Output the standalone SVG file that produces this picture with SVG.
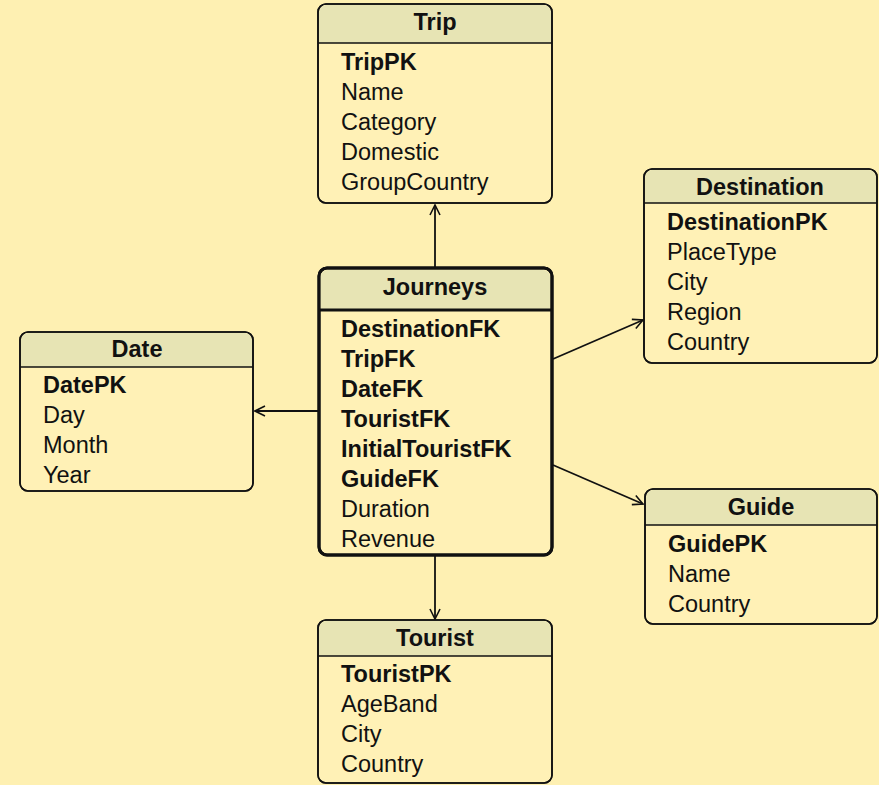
<svg xmlns="http://www.w3.org/2000/svg" width="879" height="785" viewBox="0 0 879 785">
<defs>
<style>
.bg{fill:#FEF0B2}
.box{fill:#FFF1B6;stroke:#111;stroke-width:1.6}
.main{stroke-width:3}
.hdr{fill:#E7E4B4}
.sep{stroke:#111;stroke-width:1.6}
.sepm{stroke:#111;stroke-width:3}
text{font-family:"Liberation Sans",Arial,Helvetica,sans-serif;font-size:23.5px;fill:#111}
.t{font-weight:bold;text-anchor:middle}
.b{font-weight:bold}
.conn{stroke:#111;stroke-width:1.8;fill:none;marker-end:url(#arr)}
</style>
<marker id="arr" viewBox="0 0 12 12" refX="11" refY="6" markerWidth="12" markerHeight="12" markerUnits="userSpaceOnUse" orient="auto">
<path d="M1,1 L11,6 L1,11" fill="none" stroke="#111" stroke-width="1.6"/>
</marker>
</defs>
<rect class="bg" x="0" y="0" width="879" height="785"/>

<g id="connectors">
<line class="conn" x1="435" y1="268" x2="435" y2="205"/>
<line class="conn" x1="318" y1="411" x2="255" y2="411"/>
<line class="conn" x1="553" y1="359" x2="643" y2="320"/>
<line class="conn" x1="553" y1="465" x2="643" y2="504"/>
<line class="conn" x1="435" y1="555" x2="435" y2="619"/>
</g>

<g id="trip">
<rect class="box" x="318" y="4" width="234" height="199" rx="8"/>
<path class="hdr" d="M319,43 V12 a7,7 0 0 1 7,-7 H544 a7,7 0 0 1 7,7 V43 Z"/>
<line class="sep" x1="318" y1="43" x2="552" y2="43"/>
<rect x="318" y="4" width="234" height="199" rx="8" fill="none" stroke="#111" stroke-width="1.6"/>
<text class="t" x="435" y="30">Trip</text>
<text class="b" x="341" y="70">TripPK</text>
<text x="341" y="100">Name</text>
<text x="341" y="130">Category</text>
<text x="341" y="160">Domestic</text>
<text x="341" y="190">GroupCountry</text>
</g>

<g id="destination">
<rect class="box" x="644" y="169" width="233" height="194" rx="8"/>
<path class="hdr" d="M645,203 V177 a7,7 0 0 1 7,-7 H869 a7,7 0 0 1 7,7 V203 Z"/>
<line class="sep" x1="644" y1="203" x2="877" y2="203"/>
<rect x="644" y="169" width="233" height="194" rx="8" fill="none" stroke="#111" stroke-width="1.6"/>
<text class="t" x="760" y="195">Destination</text>
<text class="b" x="667" y="230">DestinationPK</text>
<text x="667" y="260">PlaceType</text>
<text x="667" y="290">City</text>
<text x="667" y="320">Region</text>
<text x="667" y="350">Country</text>
</g>

<g id="journeys">
<rect class="box main" x="319" y="268" width="233" height="287" rx="8"/>
<path class="hdr" d="M320.5,310 V277 a7,7 0 0 1 7,-7 H543 a7,7 0 0 1 7,7 V310 Z"/>
<line class="sepm" x1="319" y1="310" x2="552" y2="310"/>
<rect x="319" y="268" width="233" height="287" rx="8" fill="none" stroke="#111" stroke-width="3"/>
<text class="t" x="435" y="295">Journeys</text>
<text class="b" x="341" y="337">DestinationFK</text>
<text class="b" x="341" y="367">TripFK</text>
<text class="b" x="341" y="397">DateFK</text>
<text class="b" x="341" y="427">TouristFK</text>
<text class="b" x="341" y="457">InitialTouristFK</text>
<text class="b" x="341" y="487">GuideFK</text>
<text x="341" y="517">Duration</text>
<text x="341" y="547">Revenue</text>
</g>

<g id="date">
<rect class="box" x="20" y="332" width="233" height="159" rx="8"/>
<path class="hdr" d="M21,367 V340 a7,7 0 0 1 7,-7 H245 a7,7 0 0 1 7,7 V367 Z"/>
<line class="sep" x1="20" y1="367" x2="253" y2="367"/>
<rect x="20" y="332" width="233" height="159" rx="8" fill="none" stroke="#111" stroke-width="1.6"/>
<text class="t" x="137" y="357">Date</text>
<text class="b" x="43" y="393">DatePK</text>
<text x="43" y="423">Day</text>
<text x="43" y="453">Month</text>
<text x="43" y="483">Year</text>
</g>

<g id="guide">
<rect class="box" x="645" y="489" width="232" height="135" rx="8"/>
<path class="hdr" d="M646,525 V497 a7,7 0 0 1 7,-7 H869 a7,7 0 0 1 7,7 V525 Z"/>
<line class="sep" x1="645" y1="525" x2="877" y2="525"/>
<rect x="645" y="489" width="232" height="135" rx="8" fill="none" stroke="#111" stroke-width="1.6"/>
<text class="t" x="761" y="515">Guide</text>
<text class="b" x="668" y="552">GuidePK</text>
<text x="668" y="582">Name</text>
<text x="668" y="612">Country</text>
</g>

<g id="tourist">
<rect class="box" x="318" y="620" width="234" height="163" rx="8"/>
<path class="hdr" d="M319,656 V628 a7,7 0 0 1 7,-7 H544 a7,7 0 0 1 7,7 V656 Z"/>
<line class="sep" x1="318" y1="656" x2="552" y2="656"/>
<rect x="318" y="620" width="234" height="163" rx="8" fill="none" stroke="#111" stroke-width="1.6"/>
<text class="t" x="435" y="646">Tourist</text>
<text class="b" x="341" y="682">TouristPK</text>
<text x="341" y="712">AgeBand</text>
<text x="341" y="742">City</text>
<text x="341" y="772">Country</text>
</g>
</svg>
